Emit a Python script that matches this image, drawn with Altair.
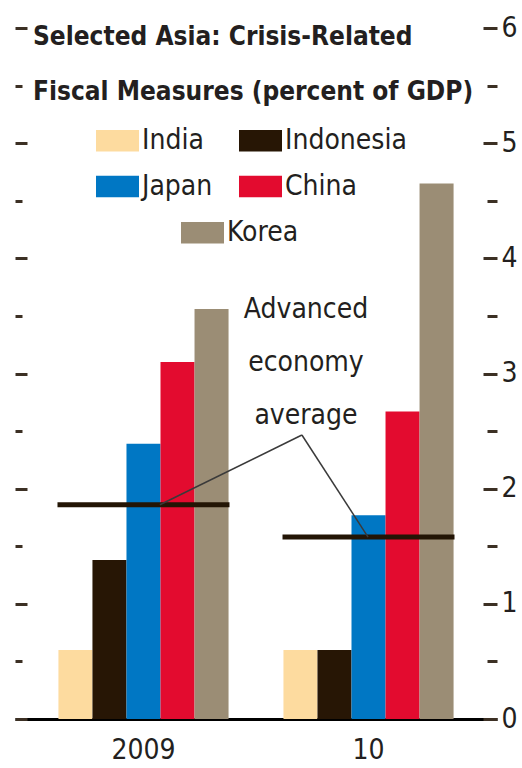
import altair as alt
import pandas as pd

# ---------------- data ----------------
countries = ["India", "Indonesia", "Japan", "China", "Korea"]
colors = ["#FDDB9F", "#271605", "#0077C4", "#E30B2F", "#9B8D75"]
years = ["2009", "10"]
values_2009 = [0.6, 1.38, 2.39, 3.1, 3.56]
values_2010 = [0.6, 0.6, 1.77, 2.67, 4.65]
adv_avg = [1.86, 1.58]
y_major = [0, 1, 2, 3, 4, 5, 6]
y_minor = [0.5, 1.5, 2.5, 3.5, 4.5, 5.5]
title_lines = ["Selected Asia: Crisis-Related", "Fiscal Measures (percent of GDP)"]
annot_lines = ["Advanced", "economy", "average"]
# annotation anchor (group units: 0 = 2009 centre, 1 = 10 centre)
annot_text_pos = (0.722, 3.48)
leader_start = (0.704, 2.466)
leader_ends_x = [0.073, 0.998]

FONT = "DejaVu Sans Condensed, Liberation Sans Narrow, sans-serif"
TXT = "#231f20"
TICK = "#3c3024"
FS = 28

W, H = 482, 691
PAD_IN, PAD_OUT = 0.244, 0.193

# band geometry -> domain for annotation scale in group units
step = W / (len(years) - PAD_IN + 2 * PAD_OUT)
start = (W - step * (len(years) - PAD_IN)) * 0.5
center0 = start + step * (1 - PAD_IN) / 2
annot_domain = [-center0 / step, (W - center0) / step]

bar_df = pd.DataFrame(
    [{"year": years[0], "country": c, "value": v} for c, v in zip(countries, values_2009)]
    + [{"year": years[1], "country": c, "value": v} for c, v in zip(countries, values_2010)]
)
avg_df = pd.DataFrame({"year": years, "avg": adv_avg})
leader_df = pd.DataFrame({
    "x": [leader_ends_x[0], leader_start[0]],
    "y": [adv_avg[0], leader_start[1]],
    "x2": [leader_start[0], leader_ends_x[1]],
    "y2": [leader_start[1], adv_avg[1]],
})
annot_df = pd.DataFrame({"x": [annot_text_pos[0]], "y": [annot_text_pos[1]],
                         "t": ["\n".join(annot_lines)]})
title_df = pd.DataFrame({"t": ["\n".join(title_lines)]})

yscale = alt.Scale(domain=[0, 6], nice=False, zero=True)
xscale = alt.Scale(paddingInner=PAD_IN, paddingOuter=PAD_OUT)
ascale = alt.Scale(domain=annot_domain, nice=False, zero=False)
cscale = alt.Scale(domain=countries, range=colors)


def tick_axis(orient, values, offset, size, labels=False):
    kw = dict(orient=orient, values=values, offset=offset, tickSize=size,
              tickWidth=3, tickColor=TICK, domain=False, grid=False, title=None,
              labels=labels)
    if labels:
        kw.update(labelFontSize=FS, labelFont=FONT, labelColor=TXT, labelPadding=4,
                  labelFlush=False, labelOverlap=False, labelBaseline="middle",
                  labelAlign="left", labelBound=False)
    return alt.Axis(**kw)


def legend(vals, lx, ly):
    return alt.Legend(orient="none", legendX=lx, legendY=ly, columns=2,
                      direction="horizontal", values=vals,
                      title=None, symbolType="M-1,-0.5H1V0.5H-1Z",
                      symbolSize=1849, symbolStrokeWidth=0,
                      symbolOpacity=1, labelFontSize=FS, labelFont=FONT,
                      labelColor=TXT, labelOffset=3, columnPadding=26,
                      rowPadding=10, padding=0)


x_main = alt.X("year:N", sort=years, scale=xscale,
               axis=alt.Axis(title=None, labelAngle=0, ticks=False, labelFontSize=FS,
                             labelFont=FONT, labelColor=TXT, labelPadding=17,
                             domainColor="#000000", domainWidth=3, grid=False))
x_offset = alt.XOffset("country:N", sort=countries,
                       scale=alt.Scale(domain=countries, paddingInner=0, paddingOuter=0))

bars_a = alt.Chart(bar_df).transform_filter(
    alt.FieldOneOfPredicate(field="country", oneOf=countries[:4])
).mark_bar(strokeWidth=0).encode(
    x=x_main,
    xOffset=x_offset,
    y=alt.Y("value:Q", scale=yscale, axis=tick_axis("left", y_major, -12, 12)),
    color=alt.Color("country:N", sort=countries, scale=cscale,
                    legend=legend(countries[:4], 81, 91)),
)

bars_b = alt.Chart(bar_df).transform_filter(
    alt.FieldOneOfPredicate(field="country", oneOf=countries[4:])
).mark_bar(strokeWidth=0).encode(
    x=alt.X("year:N", sort=years, scale=xscale, axis=None),
    xOffset=x_offset,
    y=alt.Y("value:Q", scale=yscale, axis=None),
    color=alt.Color("country:N", sort=countries, scale=cscale,
                    legend=legend(countries[4:], 166, 183)),
)

avg = alt.Chart(avg_df).mark_tick(size=172, thickness=5, color="#231505", opacity=1).encode(
    x=alt.X("year:N", sort=years, scale=xscale, axis=None),
    y=alt.Y("avg:Q", scale=yscale, axis=tick_axis("left", y_minor, -7, 7)),
)

leaders = alt.Chart(leader_df).mark_rule(color="#3a3a3a", strokeWidth=1.5).encode(
    x=alt.X("x:Q", scale=ascale, axis=None),
    x2="x2:Q",
    y=alt.Y("y:Q", scale=yscale, axis=tick_axis("right", y_major, -14, 14, labels=True)),
    y2="y2:Q",
)

annot = alt.Chart(annot_df).mark_text(
    align="center", baseline="alphabetic", fontSize=FS, font=FONT, color=TXT,
    lineBreak="\n", lineHeight=53,
).encode(
    x=alt.X("x:Q", scale=ascale, axis=None),
    y=alt.Y("y:Q", scale=yscale, axis=tick_axis("right", y_minor, -10, 10)),
    text="t:N",
)

title = alt.Chart(title_df).mark_text(
    align="left", baseline="alphabetic", fontSize=26, fontWeight="bold", font=FONT,
    color=TXT, lineBreak="\n", lineHeight=55,
).encode(x=alt.value(18), y=alt.value(17), text="t:N")

chart = alt.layer(bars_a, bars_b, avg, leaders, annot, title).resolve_scale(
    x="independent"
).resolve_axis(y="independent").resolve_legend(color="independent").properties(
    width=W, height=H,
    autosize=alt.AutoSizeParams(type="none"),
    padding={"left": 15, "top": 28, "right": 25, "bottom": 49},
    background="white",
).configure_view(stroke=None)

chart.save("out.html", embed_options={"renderer": "svg", "actions": False})
